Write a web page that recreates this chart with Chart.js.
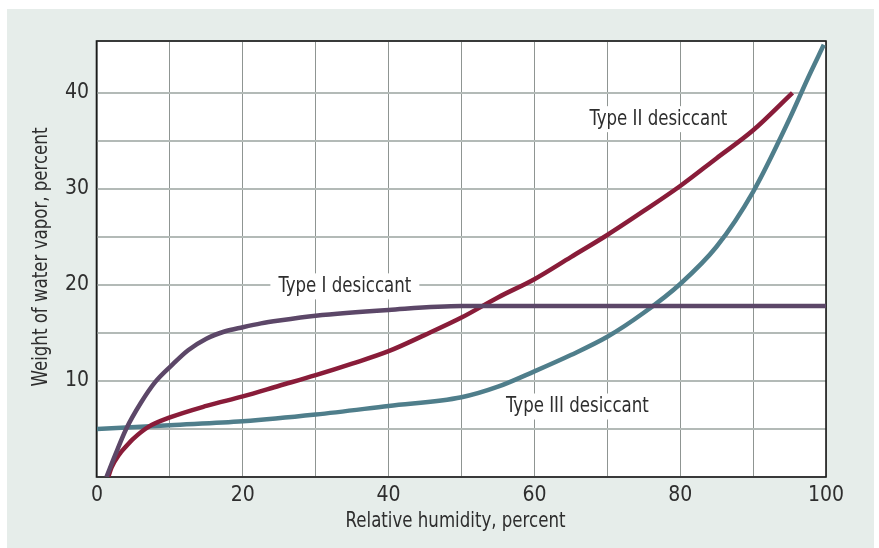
<!DOCTYPE html>
<html>
<head>
<meta charset="utf-8">
<script src="https://cdn.jsdelivr.net/npm/chart.js@4.4.1/dist/chart.umd.min.js"></script>
<style>
  html, body { margin: 0; padding: 0; background: #fff; }
  #wrap { width: 879px; height: 548px; }
</style>
</head>
<body>
<div id="wrap"><canvas id="c" width="879" height="548"></canvas></div>
<script>
/* Desiccant isotherms: water vapor weight vs relative humidity. */
const TYPE1_RH = [1.3, 2.5, 4, 6, 8, 10.2, 12.5, 15, 17.5, 20, 22.5, 25, 30, 40, 50, 100];
const TYPE1_WT = [0, 2.3, 5.0, 7.7, 9.9, 11.6, 13.2, 14.4, 15.15, 15.6, 16.0, 16.3, 16.8, 17.4, 17.8, 17.8];

const TYPE2_RH = [1.55, 2, 3, 4, 5, 7, 10, 15, 20, 25, 30, 35, 40, 45, 50, 55, 60, 65, 70, 75, 80, 85, 90, 95.4];
const TYPE2_WT = [0, 1.0, 2.3, 3.2, 4.0, 5.2, 6.2, 7.4, 8.4, 9.5, 10.6, 11.8, 13.1, 14.8, 16.6, 18.7, 20.6, 22.9, 25.2, 27.7, 30.3, 33.2, 36.1, 40];

const TYPE3_RH = [0, 10, 20, 30, 40, 50, 55, 60, 65, 70, 75, 80, 85, 90, 95, 97.5, 99.7];
const TYPE3_WT = [5.0, 5.4, 5.8, 6.5, 7.4, 8.3, 9.4, 11.0, 12.7, 14.6, 17.1, 20.1, 24.0, 29.7, 37.3, 41.5, 45];

const SERIES_NAMES = ['Type I desiccant', 'Type II desiccant', 'Type III desiccant'];
// where each curve's name sits, in data units (RH, weight)
const NAME_RH = [34.0, 77.0, 65.9];
const NAME_WT = [19.85, 37.26, 7.34];

const X_TICK_LABELS = [0, 20, 40, 60, 80, 100];
const Y_TICK_LABELS = [10, 20, 30, 40];
const X_TITLE = 'Relative humidity, percent';
const Y_TITLE = 'Weight of water vapor, percent';

const FONT = "'DejaVu Sans Condensed', 'Liberation Sans Narrow', 'Roboto', sans-serif";
const SQUEEZE = 0.84;   // the original face is narrower than anything installed
const TEXT = '#2e2e2e';
const PANEL = '#e6edea';
const COLORS = ['#5c4768', '#891c39', '#4f7e8b'];

function points(xs, ys) {
  return xs.map((x, i) => ({ x, y: ys[i] }));
}

function narrowText(ctx, text, x, y, rot) {
  ctx.save();
  ctx.translate(x, y);
  if (rot) ctx.rotate(rot);
  ctx.scale(SQUEEZE, 1);
  ctx.fillText(text, 0, 0);
  ctx.restore();
}

const backdrop = {
  id: 'backdrop',
  beforeDraw(chart) {
    const { ctx, chartArea: a } = chart;
    ctx.save();
    ctx.fillStyle = '#fff';
    ctx.fillRect(0, 0, chart.width, chart.height);
    ctx.fillStyle = PANEL;
    ctx.fillRect(7, 9, chart.width - 12, chart.height - 9);
    ctx.fillStyle = '#fff';
    ctx.fillRect(a.left, a.top, a.right - a.left, a.bottom - a.top);
    ctx.restore();
  },
  beforeDatasetsDraw(chart) {
    const { ctx, chartArea: a, scales } = chart;
    ctx.save();
    ctx.font = '22px ' + FONT;
    ctx.textAlign = 'center';
    ctx.textBaseline = 'middle';
    // curve names on white boxes
    SERIES_NAMES.forEach((name, i) => {
      const px = scales.x.getPixelForValue(NAME_RH[i]);
      const py = scales.y.getPixelForValue(NAME_WT[i]);
      const w = ctx.measureText(name).width * SQUEEZE;
      ctx.fillStyle = '#fff';
      ctx.fillRect(px - w / 2 - 8, py - 13, w + 16, 26);
      ctx.fillStyle = TEXT;
      narrowText(ctx, name, px, py);
    });
    // axis titles
    ctx.fillStyle = TEXT;
    narrowText(ctx, X_TITLE, (a.left + a.right) / 2 - 6, 521);
    narrowText(ctx, Y_TITLE, 41, (a.top + a.bottom) / 2 - 2, -Math.PI / 2);
    // frame
    ctx.strokeStyle = '#1b1b1b';
    ctx.lineWidth = 1.6;
    ctx.strokeRect(a.left - 0.5, a.top, a.right - a.left + 0.5, a.bottom - a.top);
    ctx.restore();
  },
};

new Chart(document.getElementById('c'), {
  type: 'line',
  data: {
    datasets: [
      { label: SERIES_NAMES[0], data: points(TYPE1_RH, TYPE1_WT), borderColor: COLORS[0] },
      { label: SERIES_NAMES[1], data: points(TYPE2_RH, TYPE2_WT), borderColor: COLORS[1] },
      { label: SERIES_NAMES[2], data: points(TYPE3_RH, TYPE3_WT), borderColor: COLORS[2] },
    ],
  },
  options: {
    responsive: false,
    animation: false,
    layout: { padding: { left: 0, top: 41, right: 53, bottom: 0 } },
    elements: {
      line: { borderWidth: 4.5, cubicInterpolationMode: 'monotone', fill: false, borderCapStyle: 'butt' },
      point: { radius: 0 },
    },
    plugins: { legend: { display: false }, tooltip: { enabled: false } },
    scales: {
      x: {
        type: 'linear',
        min: 0,
        max: 100,
        afterFit: (s) => { s.height = 71; },
        border: { display: false },
        grid: { color: '#8f9592', lineWidth: 1, drawTicks: false },
        ticks: {
          stepSize: 10,
          autoSkip: false,
          maxRotation: 0,
          padding: 6,
          color: TEXT,
          font: { family: FONT, size: 21 },
          callback: (v) => (X_TICK_LABELS.includes(v) ? String(v) : ''),
        },
      },
      y: {
        type: 'linear',
        min: 0,
        max: 45.4,
        afterFit: (s) => { s.width = 97; },
        border: { display: false },
        grid: { color: '#b3bab7', lineWidth: 2, drawTicks: false },
        ticks: {
          stepSize: 5,
          autoSkip: false,
          padding: 8,
          color: TEXT,
          font: { family: FONT, size: 21 },
          callback: (v) => (Y_TICK_LABELS.includes(v) ? String(v) : ''),
        },
      },
    },
  },
  plugins: [backdrop],
});
</script>
</body>
</html>
